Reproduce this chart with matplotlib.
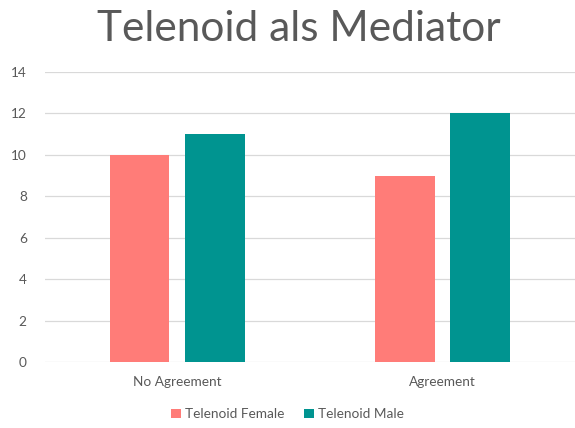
import numpy as np
import matplotlib
matplotlib.use("Agg")
import matplotlib.pyplot as plt

categories = ["No Agreement", "Agreement"]
female = [10, 9]
male = [11, 12]
series_names = ["Telenoid Female", "Telenoid Male"]

gray = "#595959"
plt.rcParams["font.family"] = ["Lato", "DejaVu Sans"]

fig = plt.figure(figsize=(5.75, 4.28), dpi=100)
ax = fig.add_axes([0.078, 0.154, 0.922, 0.678])

x = np.arange(len(categories))
w = 0.225
ax.bar(x - 0.1425, female, w, color="#FF7C78", label=series_names[0], zorder=3)
ax.bar(x + 0.1425, male, w, color="#009490", label=series_names[1], zorder=3)

ax.set_xlim(-0.5, 1.5)
ax.set_ylim(0, 14)
ax.set_yticks(range(0, 15, 2))
ax.set_xticks(x)
ax.set_xticklabels(categories)
ax.grid(axis="y", color="#D9D9D9", linewidth=0.9, zorder=0)
for s in ax.spines.values():
    s.set_visible(False)
ax.tick_params(length=0, colors=gray, labelsize=9.8)
ax.tick_params(axis="y", pad=13)
ax.tick_params(axis="x", pad=10)

fig.text(0.52, 0.932, "Telenoid als Mediator", ha="center", va="center",
         fontsize=30.5, color=gray)

fig.legend(loc="center", bbox_to_anchor=(0.5, 0.032), ncol=2, frameon=False,
           fontsize=9.8, labelcolor=gray, handlelength=0.7, handleheight=0.7,
           handletextpad=0.3, columnspacing=1.5)

fig.savefig("out.png", dpi=100)
